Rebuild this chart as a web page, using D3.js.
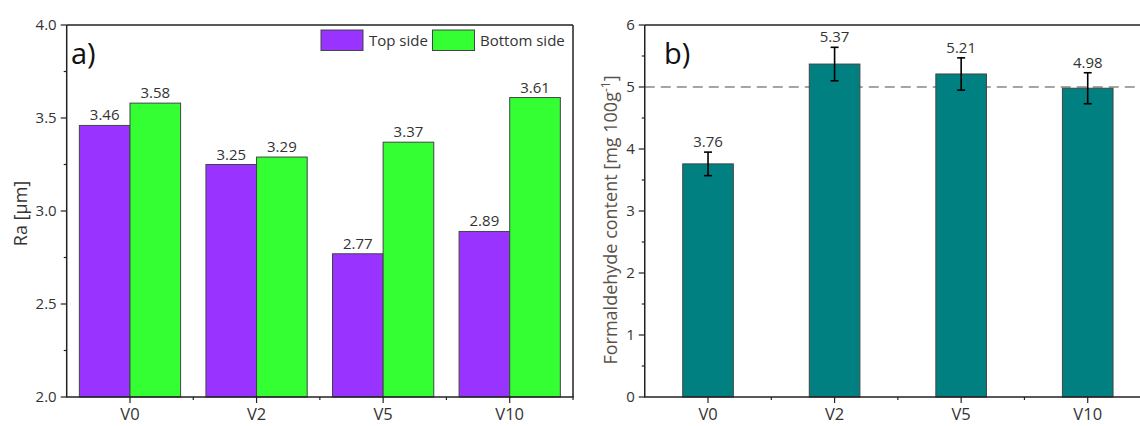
<!DOCTYPE html>
<html><head><meta charset="utf-8">
<script src="https://cdn.jsdelivr.net/npm/d3@7"></script>
<style>
body{margin:0;background:#fff;}
text{font-family:"Open Sans",sans-serif;}
</style></head>
<body><svg id="c" width="1140" height="426"></svg>
<script>
const categories = ["V0","V2","V5","V10"];
const seriesNames = ["Top side","Bottom side"];
const raTop = [3.46,3.25,2.77,2.89];
const raBottom = [3.58,3.29,3.37,3.61];
const raTicks = [2.0,2.5,3.0,3.5,4.0];
const formaldehyde = [3.76,5.37,5.21,4.98];
const formaldehydeErr = [0.19,0.27,0.26,0.25];
const fTicks = [0,1,2,3,4,5,6];
const limitValue = 5;

const svg = d3.select("#c");
const textColor = "#333";
const axisColor = "#222";

function drawFrame(g, x0, x1, yTop, yBot, yScale, ticks, minorTicks, fmt, xScale, rightBorder){
  g.append("line").attr("x1",x0).attr("x2",x1).attr("y1",yTop).attr("y2",yTop)
    .attr("stroke",axisColor).attr("stroke-width",1.5);
  if(rightBorder){
    g.append("line").attr("x1",x1).attr("x2",x1).attr("y1",yTop).attr("y2",yBot)
      .attr("stroke",axisColor).attr("stroke-width",1.5);
  }
  g.append("line").attr("x1",x0).attr("x2",x0).attr("y1",yTop).attr("y2",yBot)
    .attr("stroke",axisColor).attr("stroke-width",1.5);
  ticks.forEach(t=>{
    g.append("line").attr("x1",x0-6).attr("x2",x0).attr("y1",yScale(t)).attr("y2",yScale(t))
      .attr("stroke",axisColor).attr("stroke-width",1.2);
    g.append("text").attr("x",x0-10).attr("y",yScale(t)).attr("dy","0.35em")
      .attr("text-anchor","end").attr("font-size",15).attr("fill",textColor).text(fmt(t));
  });
  minorTicks.forEach(t=>{
    g.append("line").attr("x1",x0-3).attr("x2",x0).attr("y1",yScale(t)).attr("y2",yScale(t))
      .attr("stroke",axisColor).attr("stroke-width",1.2);
  });
  g.append("line").attr("x1",x0-0.75).attr("x2",x1+0.75).attr("y1",yBot).attr("y2",yBot)
    .attr("stroke",axisColor).attr("stroke-width",1.5);
  const step = xScale.step();
  categories.forEach((c,i)=>{
    const cx = xScale(c) + xScale.bandwidth()/2;
    g.append("line").attr("x1",cx).attr("x2",cx).attr("y1",yBot).attr("y2",yBot+6)
      .attr("stroke",axisColor).attr("stroke-width",1.2);
    g.append("text").attr("x",cx).attr("y",yBot+23).attr("text-anchor","middle")
      .attr("font-size",16.5).attr("fill",textColor).text(c);
  });
  for(let k=1;k<=categories.length;k++){
    const mx = x0 + k*step;
    g.append("line").attr("x1",mx).attr("x2",mx).attr("y1",yBot).attr("y2",yBot+3)
      .attr("stroke",axisColor).attr("stroke-width",1.2);
  }
}

// ---------- Panel a ----------
{
  const x0=66.7, x1=573, yTop=25, yBot=397;
  const g = svg.append("g");
  const x = d3.scaleBand().domain(categories).range([x0,x1]).paddingInner(0.2).paddingOuter(0.1);
  const xs = d3.scaleBand().domain(seriesNames).range([0,x.bandwidth()]);
  const y = d3.scaleLinear().domain([2,4]).range([yBot,yTop]);
  const colors = {"Top side":"#9933FF","Bottom side":"#33FF33"};
  const data = [];
  categories.forEach((c,i)=>{
    data.push({c, s:"Top side", v:raTop[i]});
    data.push({c, s:"Bottom side", v:raBottom[i]});
  });
  g.selectAll("rect.bar").data(data).enter().append("rect")
    .attr("x",d=>x(d.c)+xs(d.s)).attr("width",xs.bandwidth())
    .attr("y",d=>y(d.v)).attr("height",d=>yBot-y(d.v))
    .attr("fill",d=>colors[d.s]).attr("stroke","#444").attr("stroke-width",1);
  g.selectAll("text.val").data(data).enter().append("text")
    .attr("x",d=>x(d.c)+xs(d.s)+xs.bandwidth()/2).attr("y",d=>y(d.v)-5)
    .attr("text-anchor","middle").attr("font-size",15).attr("fill",textColor)
    .text(d=>d.v.toFixed(2));
  const minor = [2.25,2.75,3.25,3.75];
  drawFrame(g,x0,x1,yTop,yBot,y,raTicks,minor,d3.format(".1f"),x,true);
  g.append("text").attr("transform",`translate(27,213.5) rotate(-90)`)
    .attr("text-anchor","middle").attr("font-size",18).attr("fill",textColor).text("Ra [µm]");
  g.append("text").attr("x",71).attr("y",64).attr("font-size",29).attr("fill","#111").text("a)");
  const leg = [{s:"Top side",bx:321,tx:369},{s:"Bottom side",bx:432.5,tx:480}];
  leg.forEach(l=>{
    g.append("rect").attr("x",l.bx).attr("y",30).attr("width",42).attr("height",20.5)
      .attr("fill",colors[l.s]).attr("stroke","#444").attr("stroke-width",1);
    g.append("text").attr("x",l.tx).attr("y",40.5).attr("dy","0.35em").attr("font-size",15)
      .attr("fill",textColor).text(l.s);
  });
}

// ---------- Panel b ----------
{
  const x0=644.75, x1=1151, yTop=25, yBot=397;
  const g = svg.append("g");
  const x = d3.scaleBand().domain(categories).range([x0,x1]).paddingInner(0.6).paddingOuter(0.3);
  const y = d3.scaleLinear().domain([0,6]).range([yBot,yTop]);
  g.append("line").attr("x1",x0).attr("x2",x1).attr("y1",y(limitValue)).attr("y2",y(limitValue))
    .attr("stroke","#888").attr("stroke-width",1.5).attr("stroke-dasharray","10,6");
  const data = categories.map((c,i)=>({c, v:formaldehyde[i], e:formaldehydeErr[i]}));
  g.selectAll("rect.bar").data(data).enter().append("rect")
    .attr("x",d=>x(d.c)).attr("width",x.bandwidth())
    .attr("y",d=>y(d.v)).attr("height",d=>yBot-y(d.v))
    .attr("fill","#008080").attr("stroke","#444").attr("stroke-width",1);
  data.forEach(d=>{
    const cx = x(d.c)+x.bandwidth()/2;
    g.append("line").attr("x1",cx).attr("x2",cx).attr("y1",y(d.v+d.e)).attr("y2",y(d.v-d.e))
      .attr("stroke","#000").attr("stroke-width",1.6);
    [d.v+d.e,d.v-d.e].forEach(v=>{
      g.append("line").attr("x1",cx-4).attr("x2",cx+4).attr("y1",y(v)).attr("y2",y(v))
        .attr("stroke","#000").attr("stroke-width",1.6);
    });
    g.append("text").attr("x",cx).attr("y",y(d.v+d.e)-5).attr("text-anchor","middle")
      .attr("font-size",15).attr("fill",textColor).text(d.v.toFixed(2));
  });
  const minor = [0.5,1.5,2.5,3.5,4.5,5.5];
  drawFrame(g,x0,x1,yTop,yBot,y,fTicks,minor,d3.format("d"),x,false);
  const title = g.append("text").attr("transform",`translate(617,220) rotate(-90)`)
    .attr("text-anchor","middle").attr("font-size",18).attr("fill","#5a5248");
  title.append("tspan").text("Formaldehyde content [mg 100g");
  title.append("tspan").attr("dy",-7).attr("font-size",12).text("-1");
  title.append("tspan").attr("dy",7).text("]");
  g.append("text").attr("x",664).attr("y",64).attr("font-size",29).attr("fill","#111").text("b)");
}
</script></body></html>
